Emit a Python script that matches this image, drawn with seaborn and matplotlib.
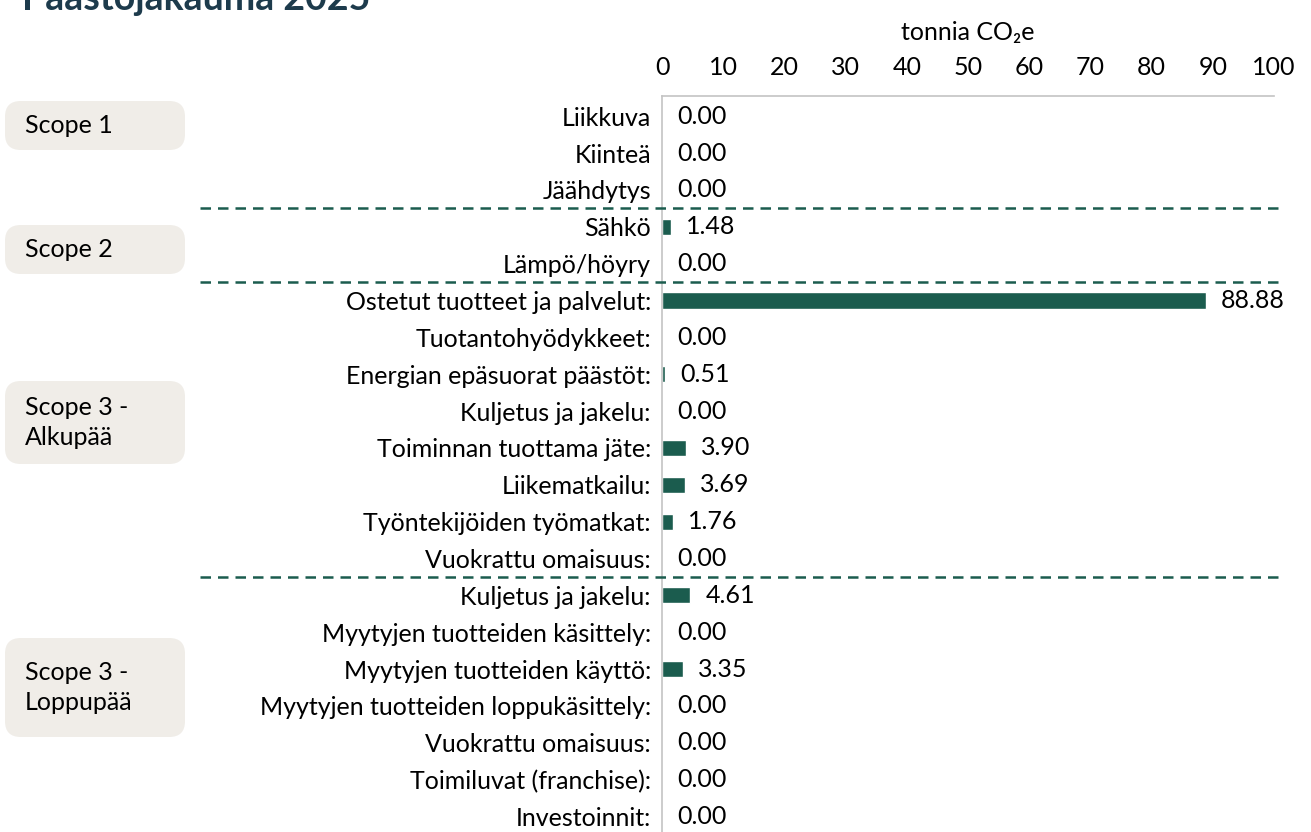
import matplotlib
matplotlib.use("Agg")
import matplotlib.pyplot as plt
import seaborn as sns
import pandas as pd
from matplotlib.patches import FancyBboxPatch
from matplotlib.lines import Line2D

categories = [
    "Liikkuva", "Kiinteä", "Jäähdytys",
    "Sähkö", "Lämpö/höyry",
    "Ostetut tuotteet ja palvelut:", "Tuotantohyödykkeet:",
    "Energian epäsuorat päästöt:", "Kuljetus ja jakelu:",
    "Toiminnan tuottama jäte:", "Liikematkailu:",
    "Työntekijöiden työmatkat:", "Vuokrattu omaisuus:",
    "Kuljetus ja jakelu:", "Myytyjen tuotteiden käsittely:",
    "Myytyjen tuotteiden käyttö:", "Myytyjen tuotteiden loppukäsittely:",
    "Vuokrattu omaisuus:", "Toimiluvat (franchise):", "Investoinnit:",
]
values = [0.00, 0.00, 0.00, 1.48, 0.00, 88.88, 0.00, 0.51, 0.00, 3.90,
          3.69, 1.76, 0.00, 4.61, 0.00, 3.35, 0.00, 0.00, 0.00, 0.00]
scope_names = ["Scope 1", "Scope 2", "Scope 3 -\nAlkupää", "Scope 3 -\nLoppupää"]
scope_breaks = [2.5, 4.5, 12.5]
x_ticks = list(range(0, 101, 10))

GREEN = "#1b5c4e"
TITLE = "#1d3b4c"
BOX = "#f0ede8"
FS = 18

sns.set_theme(style="white")
plt.rcParams["font.family"] = ["Lato", "DejaVu Sans"]
plt.rcParams["font.size"] = FS
plt.rcParams["text.color"] = "black"
plt.rcParams["xtick.color"] = "black"
plt.rcParams["ytick.color"] = "black"
plt.rcParams["axes.labelcolor"] = "black"

df = pd.DataFrame({"row": range(len(values)), "value": values})

fig = plt.figure(figsize=(13.11, 8.32), dpi=100)
ax = fig.add_axes([662 / 1311, 0.0, (1274 - 662) / 1311, 736 / 832])

sns.barplot(data=df, x="value", y="row", orient="h", color=GREEN,
            width=0.44, saturation=1, ax=ax)

ax.set_xlim(0, 100)
ax.set_ylim(19.42, -0.55)
ax.set_yticks(range(len(categories)))
ax.set_yticklabels(categories, fontsize=FS)
ax.set_ylabel("")
ax.xaxis.tick_top()
ax.xaxis.set_label_position("top")
ax.set_xticks(x_ticks)
ax.set_xticklabels([str(t) for t in x_ticks], fontsize=FS)
ax.set_xlabel("tonnia CO₂e", fontsize=FS, labelpad=12)
ax.tick_params(axis="both", length=0)
ax.tick_params(axis="x", pad=12)
ax.tick_params(axis="y", pad=8)

for side in ["right", "bottom"]:
    ax.spines[side].set_visible(False)
for side in ["top", "left"]:
    ax.spines[side].set_color("#c4c4c4")
    ax.spines[side].set_linewidth(1.2)

for i, v in enumerate(values):
    ax.annotate(f"{v:.2f}", (v, i), xytext=(11, 0), textcoords="offset points",
                va="center", ha="left", fontsize=FS, color="black")

# dashed separators between scopes
for b in scope_breaks:
    y_fig = ax.transData.transform((0, b))[1]
    y_fig = fig.transFigure.inverted().transform((0, y_fig))[1]
    fig.add_artist(Line2D([200 / 1311, 1282 / 1311], [y_fig, y_fig],
                          transform=fig.transFigure, color=GREEN, lw=1.8,
                          linestyle=(0, (4.2, 2.8))))

# scope boxes (pixel extents from the left column)
box_spans = [(101, 150), (225, 274), (381, 464), (638, 737)]
for name, (top, bot) in zip(scope_names, box_spans):
    y0 = 1 - bot / 832
    h = (bot - top) / 832
    fig.add_artist(FancyBboxPatch((5 / 1311, y0), 180 / 1311, h,
                                  boxstyle="round,pad=0,rounding_size=0.012",
                                  transform=fig.transFigure,
                                  facecolor=BOX, edgecolor="none",
                                  mutation_aspect=1311 / 832))
    fig.text(25 / 1311, y0 + h / 2, name, ha="left", va="center",
             fontsize=FS, linespacing=1.4)

fig.text(22 / 1311, 1 - 10 / 832, "Päästöjakauma 2025", fontsize=27,
         fontweight="bold", color=TITLE, ha="left", va="baseline")

fig.savefig("out.png", dpi=100)
